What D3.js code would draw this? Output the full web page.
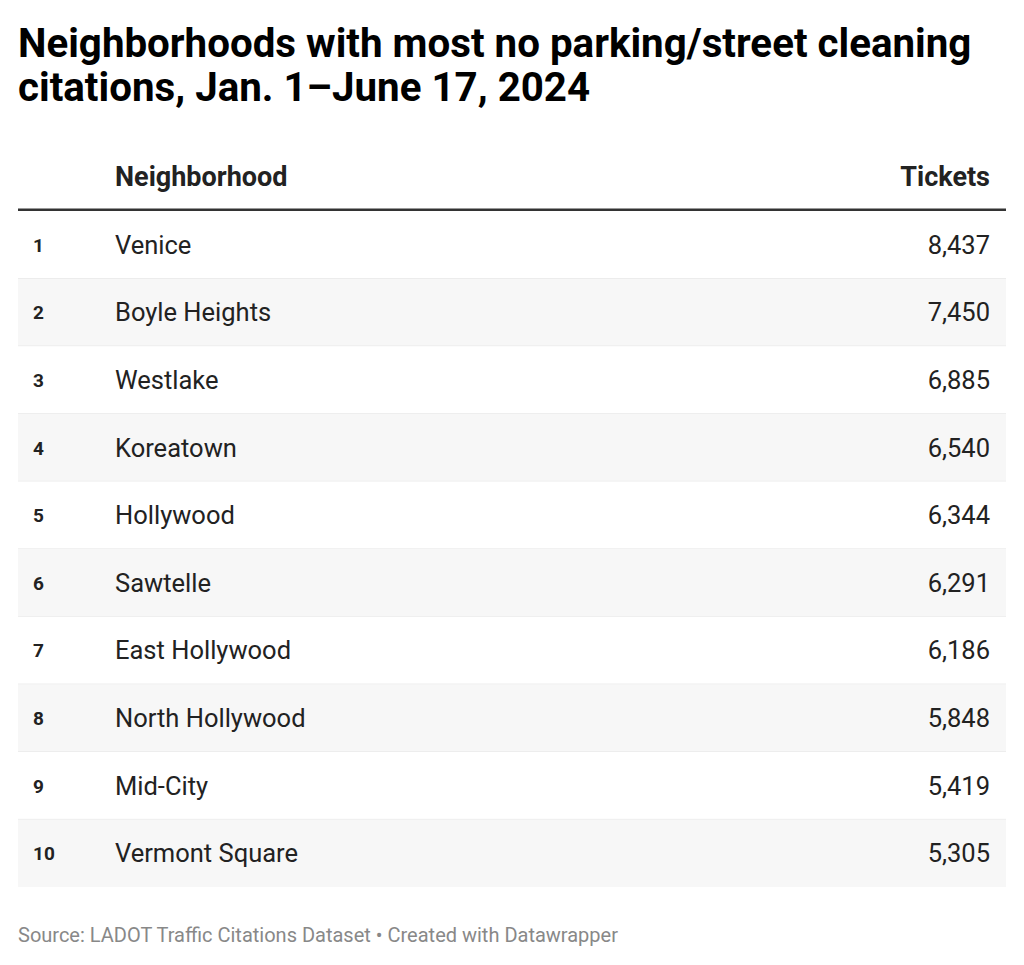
<!DOCTYPE html>
<html>
<head>
<meta charset="utf-8">
<script src="https://cdn.jsdelivr.net/npm/d3@7"></script>
<style>
  html, body { margin: 0; padding: 0; background: #fff; }
  svg { display: block; font-family: Roboto, "Noto Sans", sans-serif; }
</style>
</head>
<body>
<svg id="chart" width="1024" height="965"></svg>
<script>
const titleLines = ["Neighborhoods with most no parking/street cleaning", "citations, Jan. 1–June 17, 2024"];
const columns = ["", "Neighborhood", "Tickets"];
const ranks = [1, 2, 3, 4, 5, 6, 7, 8, 9, 10];
const neighborhoods = ["Venice", "Boyle Heights", "Westlake", "Koreatown", "Hollywood", "Sawtelle", "East Hollywood", "North Hollywood", "Mid-City", "Vermont Square"];
const tickets = [8437, 7450, 6885, 6540, 6344, 6291, 6186, 5848, 5419, 5305];
const footer = "Source: LADOT Traffic Citations Dataset • Created with Datawrapper";

const svg = d3.select("#chart");
const left = 18, right = 1006;

// Title
svg.append("g").selectAll("text").data(titleLines).join("text")
  .attr("x", left)
  .attr("y", (d, i) => 57 + i * 44)
  .attr("font-size", 40.3)
  .attr("font-weight", 700)
  .attr("fill", "#000")
  .text(d => d);

// Row scale
const y = d3.scaleBand().domain(ranks).range([211, 887]).padding(0);

// Header
const header = svg.append("g");
header.append("text").attr("x", 115).attr("y", 186).attr("font-size", 27).attr("font-weight", 700).attr("fill", "#222").text(columns[1]);
header.append("text").attr("x", 990).attr("y", 186).attr("text-anchor", "end").attr("font-size", 27).attr("font-weight", 700).attr("fill", "#222").text(columns[2]);
svg.append("line").attr("x1", left).attr("x2", right).attr("y1", 210).attr("y2", 210).attr("stroke", "#333").attr("stroke-width", 3);

const rows = svg.append("g").selectAll("g").data(ranks).join("g")
  .attr("transform", d => `translate(0,${y(d)})`);

rows.append("rect")
  .attr("x", left).attr("width", right - left)
  .attr("y", 0).attr("height", y.bandwidth())
  .attr("fill", (d, i) => i % 2 === 1 ? "#f7f7f7" : "#fff");

rows.filter((d, i) => i < ranks.length - 1).append("line")
  .attr("x1", left).attr("x2", right)
  .attr("y1", y.bandwidth()).attr("y2", y.bandwidth())
  .attr("stroke", "#e3e3e3").attr("stroke-width", 1);

rows.append("text")
  .attr("x", 33).attr("y", y.bandwidth() / 2 + 7)
  .attr("font-size", 19).attr("font-weight", 700).attr("fill", "#222")
  .text(d => d);

rows.append("text")
  .attr("x", 115).attr("y", y.bandwidth() / 2 + 9)
  .attr("font-size", 25.5).attr("fill", "#222")
  .text((d, i) => neighborhoods[i]);

const fmt = d3.format(",");
rows.append("text")
  .attr("x", 990).attr("y", y.bandwidth() / 2 + 9)
  .attr("text-anchor", "end")
  .attr("font-size", 25.5).attr("fill", "#222")
  .text((d, i) => fmt(tickets[i]));

svg.append("text").attr("x", left).attr("y", 942)
  .attr("font-size", 20).attr("fill", "#888").text(footer);
</script>
</body>
</html>
